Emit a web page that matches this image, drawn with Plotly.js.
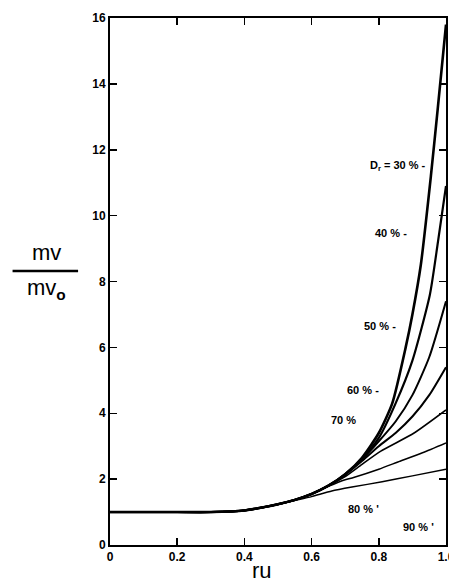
<!DOCTYPE html>
<html>
<head>
<meta charset="utf-8">
<script src="https://cdn.plot.ly/plotly-3.0.1.min.js"></script>
<style>html,body{margin:0;padding:0;background:#fff;}#chart{width:449px;height:585px;}</style>
</head>
<body>
<div id="chart"></div>
<script>
// Curves of mv/mv0 against ru for relative densities Dr
const seriesNames = ["30 %", "40 %", "50 %", "60 %", "70 %", "80 %", "90 %"];

const x30 = [0, 0.1, 0.2, 0.3, 0.4, 0.5, 0.55, 0.6, 0.65, 0.7, 0.75, 0.8, 0.84, 0.88, 0.9, 0.925, 0.955, 0.975, 1.0];
const y30 = [1, 1, 1, 1, 1.05, 1.24, 1.37, 1.55, 1.8, 2.15, 2.65, 3.4, 4.3, 6.0, 7.0, 8.5, 11.2, 13.2, 15.8];

const x40 = [0, 0.1, 0.2, 0.3, 0.4, 0.5, 0.55, 0.6, 0.65, 0.7, 0.75, 0.8, 0.85, 0.9, 0.952, 0.976, 1.0];
const y40 = [1, 1, 1, 1, 1.05, 1.24, 1.37, 1.55, 1.8, 2.15, 2.62, 3.25, 4.3, 5.6, 7.6, 9.2, 10.9];

const x50 = [0, 0.1, 0.2, 0.3, 0.4, 0.5, 0.55, 0.6, 0.65, 0.7, 0.75, 0.8, 0.85, 0.9, 0.95, 1.0];
const y50 = [1, 1, 1, 1, 1.05, 1.24, 1.37, 1.55, 1.8, 2.15, 2.6, 3.15, 3.75, 4.55, 5.7, 7.4];

const x60 = [0, 0.1, 0.2, 0.3, 0.4, 0.5, 0.55, 0.6, 0.65, 0.7, 0.75, 0.8, 0.85, 0.9, 0.95, 1.0];
const y60 = [1, 1, 1, 1, 1.05, 1.24, 1.37, 1.55, 1.8, 2.13, 2.55, 3.0, 3.4, 3.9, 4.55, 5.4];

const x70 = [0, 0.1, 0.2, 0.3, 0.4, 0.5, 0.55, 0.6, 0.65, 0.7, 0.75, 0.806, 0.905, 1.0];
const y70 = [1, 1, 1, 1, 1.05, 1.24, 1.37, 1.55, 1.8, 2.08, 2.45, 2.85, 3.4, 4.1];

const x80 = [0, 0.1, 0.2, 0.3, 0.4, 0.5, 0.55, 0.6, 0.65, 0.7, 0.725, 0.8, 0.857, 0.93, 1.0];
const y80 = [1, 1, 1, 1, 1.05, 1.24, 1.36, 1.55, 1.78, 1.98, 2.05, 2.3, 2.52, 2.8, 3.1];

const x90 = [0, 0.1, 0.2, 0.3, 0.4, 0.5, 0.55, 0.6, 0.66, 0.72, 0.81, 0.9, 1.0];
const y90 = [1, 1, 1, 1, 1.05, 1.23, 1.35, 1.47, 1.64, 1.76, 1.92, 2.1, 2.3];

const xTickVals = [0, 0.2, 0.4, 0.6, 0.8, 1.0];
const xTickText = ["0", "0.2", "0.4", "0.6", "0.8", "1.0"];
const yTickVals = [0, 2, 4, 6, 8, 10, 12, 14, 16];
const yTickText = ["0", "2", "4", "6", "8", "10", "12", "14", "16"];

// Curve labels: text, x anchor (right edge), y
const labelTexts = ["D<sub>r</sub> = 30 % -", "40 % -", "50 % -", "60 % -", "70 %", "80 % '", "90 % '"];
const labelX = [0.946, 0.89, 0.857, 0.806, 0.737, 0.806, 0.97];
const labelY = [11.5, 9.47, 6.64, 4.7, 3.8, 1.1, 0.56];

const xs = [x30, x40, x50, x60, x70, x80, x90];
const ys = [y30, y40, y50, y60, y70, y80, y90];
const widths = [2.6, 2.2, 2.0, 2.0, 1.6, 1.5, 1.4];

const traces = xs.map((xv, i) => ({
  x: xv, y: ys[i], type: "scatter", mode: "lines", name: seriesNames[i],
  line: {color: "#000", width: widths[i], shape: "spline", smoothing: 0.6},
  hoverinfo: "skip"
}));

const tickFont = {family: "Liberation Sans, Arial, sans-serif", size: 12, color: "#000", weight: "bold"};

const annotations = labelTexts.map((t, i) => ({
  x: labelX[i], y: labelY[i], xref: "x", yref: "y", text: t, showarrow: false,
  xanchor: "right", yanchor: "middle",
  font: {family: "Liberation Sans, Arial, sans-serif", size: 11, color: "#000", weight: "bold"}
}));

annotations.push(
  {xref: "paper", yref: "paper", x: -0.19, y: 0.527, text: "mv", showarrow: false,
   xanchor: "center", yanchor: "bottom",
   font: {family: "Liberation Sans, Arial, sans-serif", size: 22, color: "#000"}},
  {xref: "paper", yref: "paper", x: -0.19, y: 0.516, text: "mv<sub><b>o</b></sub>", showarrow: false,
   xanchor: "center", yanchor: "top",
   font: {family: "Liberation Sans, Arial, sans-serif", size: 22, color: "#000"}},
  {xref: "paper", yref: "paper", x: 0.452, y: -0.049, text: "ru", showarrow: false,
   xanchor: "center", yanchor: "middle",
   font: {family: "Liberation Sans, Arial, sans-serif", size: 22, color: "#000"}}
);

const layout = {
  width: 449, height: 585,
  margin: {l: 110, r: 3, t: 18, b: 40},
  paper_bgcolor: "#fff", plot_bgcolor: "#fff",
  showlegend: false,
  xaxis: {
    range: [0, 1.0], tickvals: xTickVals, ticktext: xTickText,
    ticks: "inside", ticklen: 7, tickwidth: 1.5, tickcolor: "#000",
    showline: true, linecolor: "#000", linewidth: 2, mirror: "ticks",
    showgrid: false, zeroline: false, tickfont: tickFont, fixedrange: true,
    ticklabeloverflow: "allow"
  },
  yaxis: {
    range: [0, 16], tickvals: yTickVals, ticktext: yTickText,
    ticks: "inside", ticklen: 7, tickwidth: 1.5, tickcolor: "#000",
    showline: true, linecolor: "#000", linewidth: 2, mirror: "ticks",
    showgrid: false, zeroline: false, tickfont: tickFont, fixedrange: true,
    ticklabeloverflow: "allow"
  },
  shapes: [
    {type: "line", xref: "paper", yref: "paper", x0: -0.29, x1: -0.095, y0: 0.52, y1: 0.52,
     line: {color: "#000", width: 2.5}}
  ],
  annotations: annotations
};

Plotly.newPlot("chart", traces, layout, {staticPlot: true, displayModeBar: false});
</script>
</body>
</html>
